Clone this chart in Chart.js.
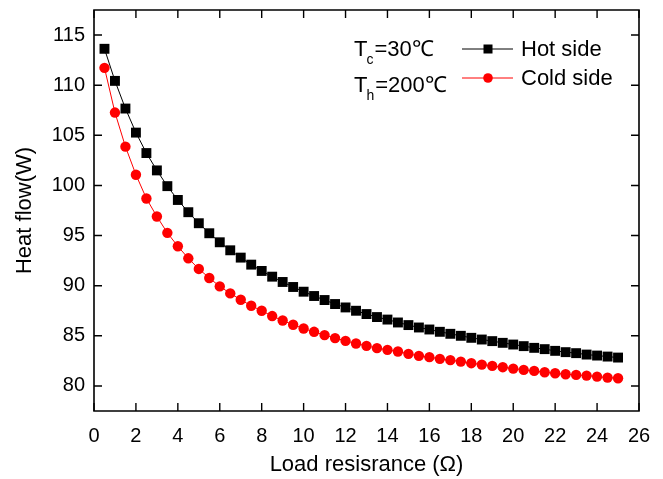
<!DOCTYPE html>
<html>
<head>
<meta charset="utf-8">
<script src="https://cdn.jsdelivr.net/npm/chart.js@4.4.0/dist/chart.umd.min.js"></script>
<style>
html,body{margin:0;padding:0;background:#fff;}
#c{display:block;}
</style>
</head>
<body>
<canvas id="c" width="663" height="479"></canvas>
<script>
const loadResistance = [0.5,1,1.5,2,2.5,3,3.5,4,4.5,5,5.5,6,6.5,7,7.5,8,8.5,9,9.5,10,10.5,11,11.5,12,12.5,13,13.5,14,14.5,15,15.5,16,16.5,17,17.5,18,18.5,19,19.5,20,20.5,21,21.5,22,22.5,23,23.5,24,24.5,25];
const hotSide = [113.63,110.43,107.67,105.27,103.23,101.5,99.93,98.55,97.33,96.23,95.23,94.33,93.53,92.8,92.1,91.47,90.9,90.37,89.87,89.4,88.97,88.57,88.17,87.83,87.5,87.17,86.87,86.62,86.33,86.07,85.83,85.63,85.4,85.2,85.0,84.8,84.63,84.47,84.3,84.13,83.97,83.8,83.67,83.5,83.37,83.27,83.13,83.03,82.93,82.83];
const coldSide = [111.73,107.27,103.87,101.07,98.7,96.9,95.27,93.93,92.73,91.67,90.77,89.93,89.23,88.6,88.0,87.5,86.97,86.53,86.1,85.73,85.4,85.07,84.77,84.5,84.23,84.0,83.77,83.6,83.43,83.2,83.0,82.87,82.7,82.57,82.43,82.27,82.13,82.0,81.87,81.73,81.6,81.5,81.37,81.27,81.17,81.1,81.03,80.93,80.83,80.77];
const xTicks = [0,2,4,6,8,10,12,14,16,18,20,22,24,26];
const yTicks = [80,85,90,95,100,105,110,115];
const seriesNames = ['Hot side','Cold side'];
const xTitle = 'Load resisrance (\u03A9)';
const yTitle = 'Heat flow(W)';

const FONT = '"Liberation Sans", Arial, sans-serif';

function pts(ys){ return loadResistance.map((x,i)=>({x:x,y:ys[i]})); }

const framePlugin = {
  id:'frame',
  afterDraw(chart){
    const ctx = chart.ctx;
    const a = chart.chartArea;
    const xs = chart.scales.x, ys = chart.scales.y;
    ctx.save();
    ctx.strokeStyle = '#000';
    ctx.lineWidth = 1.6;
    ctx.beginPath();
    ctx.rect(a.left, a.top, a.right-a.left, a.bottom-a.top);
    ctx.stroke();
    const tl = 8;
    ctx.lineWidth = 1.4;
    ctx.beginPath();
    xTicks.forEach(v=>{
      const px = xs.getPixelForValue(v);
      ctx.moveTo(px, a.bottom); ctx.lineTo(px, a.bottom - tl);
      ctx.moveTo(px, a.top); ctx.lineTo(px, a.top + tl);
    });
    yTicks.forEach(v=>{
      const py = ys.getPixelForValue(v);
      ctx.moveTo(a.left, py); ctx.lineTo(a.left + tl, py);
      ctx.moveTo(a.right, py); ctx.lineTo(a.right - tl, py);
    });
    ctx.stroke();

    // annotation
    ctx.fillStyle = '#000';
    ctx.textBaseline = 'alphabetic';
    ctx.textAlign = 'left';
    function tempLabel(sub, rest, base){
      ctx.font = '22px ' + FONT;
      ctx.fillText('T', 354, base);
      const tw = ctx.measureText('T').width;
      ctx.font = '14px ' + FONT;
      ctx.fillText(sub, 354 + tw - 1, base + 8);
      const sw = ctx.measureText(sub).width;
      ctx.font = '22px ' + FONT;
      ctx.fillText(rest, 354 + tw + sw, base);
    }
    tempLabel('c', '=30\u2103', 56);
    tempLabel('h', '=200\u2103', 92);

    // legend
    const colors = ['#000000', '#ff0000'];
    const ly = [49, 78];
    seriesNames.forEach((name,i)=>{
      ctx.strokeStyle = colors[i];
      ctx.lineWidth = 1;
      ctx.beginPath();
      ctx.moveTo(462, ly[i]); ctx.lineTo(513, ly[i]);
      ctx.stroke();
      ctx.fillStyle = colors[i];
      if(i===0){
        ctx.fillRect(488-4.5, ly[i]-4.5, 9, 9);
      } else {
        ctx.beginPath(); ctx.arc(488, ly[i], 4.8, 0, Math.PI*2); ctx.fill();
      }
      ctx.fillStyle = '#000';
      ctx.font = '22px ' + FONT;
      ctx.textBaseline = 'middle';
      ctx.fillText(name, 521, ly[i] + 1);
    });
    ctx.restore();
  }
};

new Chart(document.getElementById('c'), {
  type:'scatter',
  data:{
    datasets:[
      {label:seriesNames[0], data:pts(hotSide), showLine:true, borderColor:'#000', borderWidth:1,
       backgroundColor:'#000', pointStyle:'rect', pointRadius:7, pointBorderWidth:0, pointHoverRadius:7, tension:0},
      {label:seriesNames[1], data:pts(coldSide), showLine:true, borderColor:'#ff0000', borderWidth:1,
       backgroundColor:'#ff0000', pointStyle:'circle', pointRadius:5.2, pointBorderWidth:0, pointHoverRadius:5.2, tension:0}
    ]
  },
  options:{
    responsive:false,
    animation:false,
    devicePixelRatio:1,
    layout:{padding:{left:0, top:10, right:24, bottom:0}},
    plugins:{legend:{display:false}, tooltip:{enabled:false}},
    scales:{
      x:{
        type:'linear', min:0, max:26,
        afterBuildTicks(s){ s.ticks = xTicks.map(v=>({value:v})); },
        afterFit(s){ s.height = 68; s.paddingLeft = 0; s.paddingRight = 0; },
        grid:{display:false, drawTicks:false},
        border:{display:false},
        ticks:{color:'#000', padding:13, font:{family:FONT, size:20}, maxRotation:0, autoSkip:false},
        title:{display:true, text:xTitle, color:'#000', font:{family:FONT, size:22}, padding:{top:0,bottom:1}}
      },
      y:{
        type:'linear', min:77.5, max:117.5,
        afterBuildTicks(s){ s.ticks = yTicks.map(v=>({value:v})); },
        afterFit(s){ s.width = 94; s.paddingTop = 0; s.paddingBottom = 0; },
        grid:{display:false, drawTicks:false},
        border:{display:false},
        ticks:{color:'#000', padding:9, font:{family:FONT, size:20}, autoSkip:false},
        title:{display:true, text:yTitle, color:'#000', font:{family:FONT, size:22}, padding:{top:12,bottom:0}}
      }
    }
  },
  plugins:[framePlugin]
});
</script>
</body>
</html>
